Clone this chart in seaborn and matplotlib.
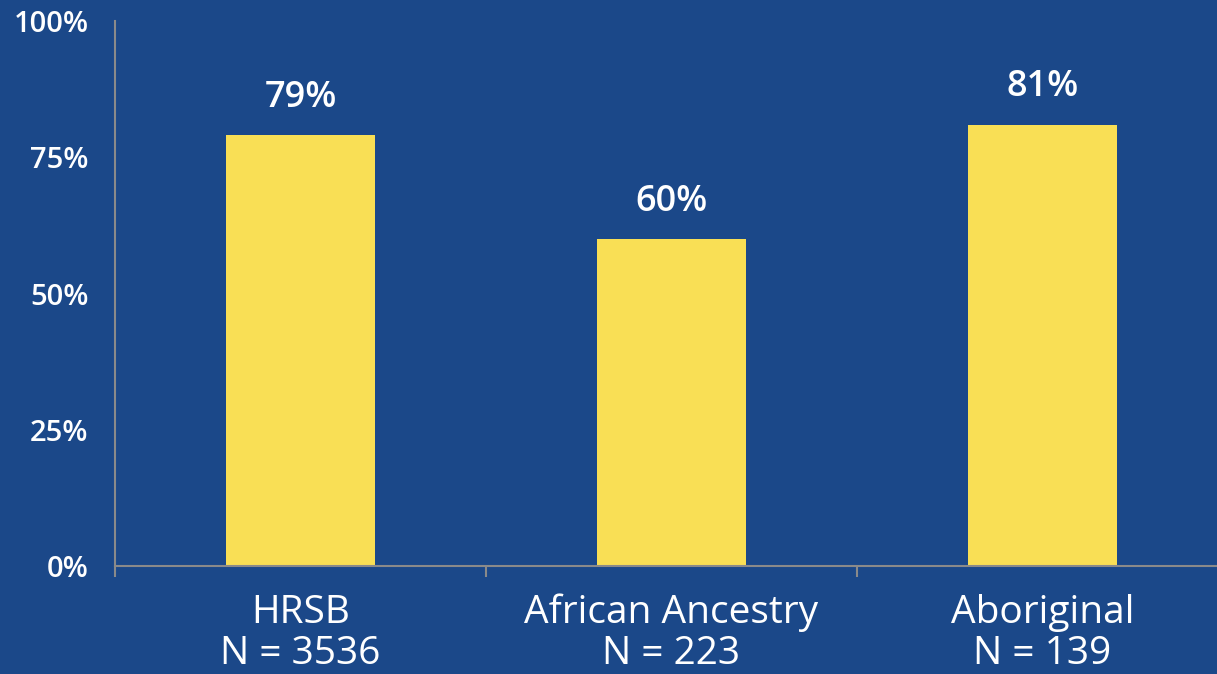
import matplotlib
matplotlib.use("Agg")
import matplotlib.pyplot as plt
import seaborn as sns
import pandas as pd
from matplotlib.ticker import FixedLocator, PercentFormatter

# data
groups = ["HRSB", "African Ancestry", "Aboriginal"]
sample_sizes = [3536, 223, 139]
percents = [79, 60, 81]
y_ticks = [0, 25, 50, 75, 100]

bg = "#1B4889"
bar_color = "#F9DF55"
axis_grey = "#8A8A8A"

sns.set_theme(style="white")
plt.rcParams["font.family"] = ["Open Sans", "DejaVu Sans"]

labels = [f"{g}\nN = {n}" for g, n in zip(groups, sample_sizes)]
df = pd.DataFrame({"group": labels, "pct": percents})

fig = plt.figure(figsize=(12.17, 6.74), dpi=100, facecolor=bg)
ax = fig.add_axes([0.0945, 0.1602, 0.9145, 0.8086])
ax.set_facecolor(bg)

sns.barplot(data=df, x="group", y="pct", color=bar_color, width=0.4,
            saturation=1, linewidth=0, ax=ax)

# value labels above bars
for i, v in enumerate(percents):
    ax.annotate(f"{v}%", (i, v), xytext=(0, 14), textcoords="offset points",
                ha="center", va="bottom", color="white", fontsize=26,
                fontweight="semibold")

ax.set_xlim(-0.5, 2.5)
ax.set_ylim(0, 100)
ax.set_yticks(y_ticks)
ax.yaxis.set_major_formatter(PercentFormatter(decimals=0))
ax.xaxis.set_minor_locator(FixedLocator([-0.5, 0.5, 1.5, 2.5]))

ax.set_xlabel("")
ax.set_ylabel("")

for side in ["top", "right"]:
    ax.spines[side].set_visible(False)
for side in ["left", "bottom"]:
    ax.spines[side].set_color(axis_grey)
    ax.spines[side].set_linewidth(1.5)

ax.tick_params(axis="y", colors=axis_grey, length=7, width=1.5, pad=12,
               labelcolor="white", labelsize=21)
for t in ax.get_yticklabels():
    t.set_fontweight("semibold")
ax.tick_params(axis="x", which="major", length=0, pad=20, labelcolor="white",
               labelsize=28)
ax.tick_params(axis="x", which="minor", length=8, width=1.5, colors=axis_grey,
               bottom=True)
for t in ax.get_xticklabels():
    t.set_linespacing(1.1)

fig.savefig("out.png", dpi=100, facecolor=bg)
